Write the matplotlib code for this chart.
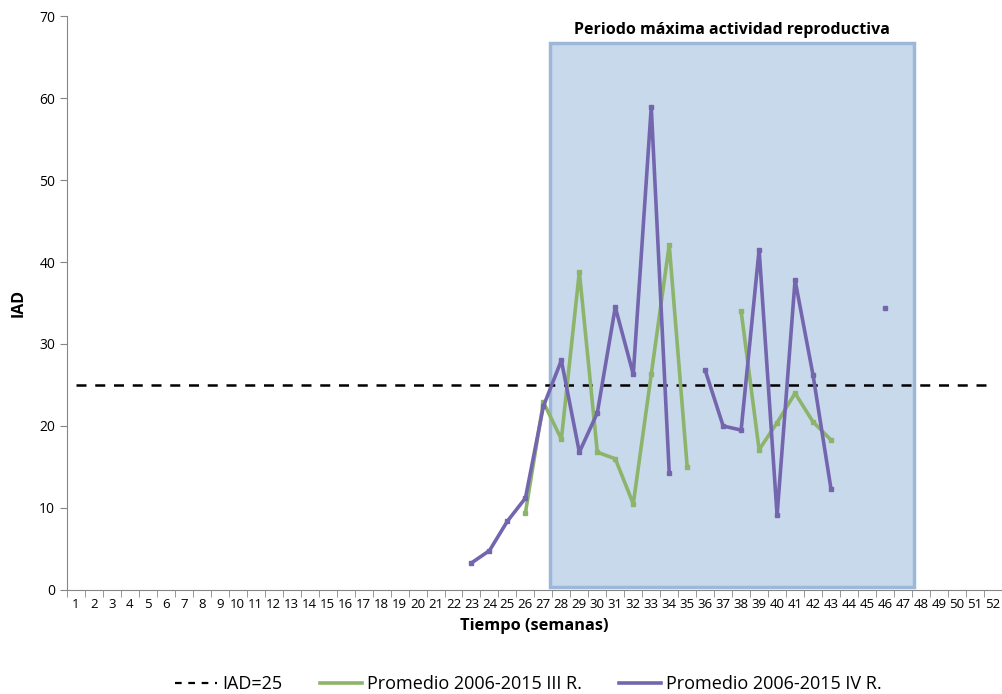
import numpy as np
import matplotlib
matplotlib.use("Agg")
import matplotlib.pyplot as plt
from matplotlib.patches import Rectangle
from matplotlib.lines import Line2D

weeks = list(range(1, 53))
threshold = 25
iii_weeks = [26, 27, 28, 29, 30, 31, 32, 33, 34, 35, 38, 39, 40, 41, 42, 43]
iii_vals = [9.4, 22.9, 18.4, 38.8, 16.8, 16.0, 10.5, 26.3, 42.1, 15.0, 34.0, 17.1, 20.4, 24.0, 20.5, 18.3]
iv_weeks = [23, 24, 25, 26, 27, 28, 29, 30, 31, 32, 33, 34, 36, 37, 38, 39, 40, 41, 42, 43, 46]
iv_vals = [3.3, 4.8, 8.4, 11.2, 22.4, 28.0, 16.8, 21.6, 34.5, 26.3, 58.9, 14.3, 26.8, 20.0, 19.5, 41.5, 9.1, 37.8, 26.2, 12.3, 34.4]
period_start, period_end = 27.35, 47.6
period_label = "Periodo máxima actividad reproductiva"

plt.rcParams['font.family'] = ['Open Sans', 'DejaVu Sans']

fig = plt.figure(figsize=(10.03, 6.94), dpi=100)
ax = fig.add_axes([0.0668, 0.1499, 0.932, 0.827])

def segments(w, v):
    segs, cw, cv = [], [w[0]], [v[0]]
    for a, b in zip(w[1:], v[1:]):
        if a == cw[-1] + 1:
            cw.append(a); cv.append(b)
        else:
            segs.append((cw, cv)); cw, cv = [a], [b]
    segs.append((cw, cv))
    return segs

ax.add_patch(Rectangle((period_start, 0.35), period_end - period_start, 66.3,
                       facecolor='#c9d9ec', edgecolor='#9db7d8', linewidth=2.5, zorder=1))
ax.text((period_start + period_end) / 2, 68.3, period_label, ha='center', va='center',
        fontsize=11.5, fontweight='bold', color='black')

ax.plot([1, 52], [threshold, threshold], color='black', linestyle=(0, (4, 3.5)), linewidth=1.8, zorder=3)

green = '#8db46b'
purple = '#7466ae'
for sw, sv in segments(iii_weeks, iii_vals):
    ax.plot(sw, sv, color=green, linewidth=2.6, marker='s', markersize=3, zorder=4)
for sw, sv in segments(iv_weeks, iv_vals):
    ax.plot(sw, sv, color=purple, linewidth=2.6, marker='s', markersize=3, zorder=5)

ax.set_xlim(0.5, 52.5)
ax.set_ylim(0, 70)
ax.set_yticks(range(0, 71, 10))
ax.set_xticks(weeks)
ax.set_xticklabels([str(w) for w in weeks], fontsize=9.5)
ax.set_xticks(np.arange(0.5, 53, 1), minor=True)
ax.tick_params(axis='x', which='major', length=0, pad=6)
ax.tick_params(axis='x', which='minor', length=5, color='#868686', direction='out')
ax.tick_params(axis='y', length=5, color='#868686', labelsize=10)
for s in ['top', 'right']:
    ax.spines[s].set_visible(False)
for s in ['left', 'bottom']:
    ax.spines[s].set_color('#868686')
ax.set_xlabel('Tiempo (semanas)', fontsize=11.8, fontweight='bold', labelpad=5)
ax.set_ylabel('IAD', fontsize=11.5, fontweight='bold')
ax.yaxis.set_label_coords(-0.043, 0.5)

handles = [Line2D([], [], color='black', linestyle=(0, (3, 3)), linewidth=1.6),
           Line2D([], [], color=green, linewidth=2.6),
           Line2D([], [], color=purple, linewidth=2.6)]
labels = ['IAD=25', 'Promedio 2006-2015 III R.', 'Promedio 2006-2015 IV R.']
fig.legend(handles, labels, loc='center', bbox_to_anchor=(0.527, 0.014), ncol=3, frameon=False,
           fontsize=13, handlelength=2.3, handletextpad=0.28, columnspacing=2.1)

fig.savefig('out.png', dpi=100)
